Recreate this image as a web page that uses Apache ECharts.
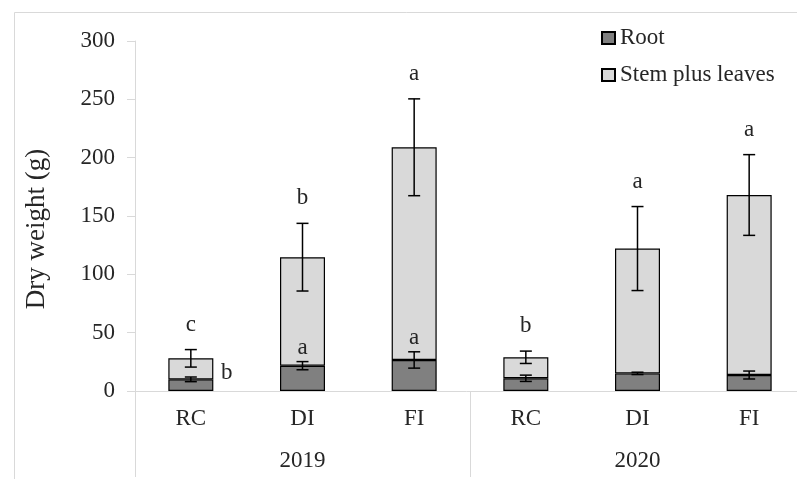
<!DOCTYPE html>
<html>
<head>
<meta charset="utf-8">
<script src="https://cdn.jsdelivr.net/npm/echarts@6/dist/echarts.min.js"></script>
<style>
html,body{margin:0;padding:0;background:#fff;}
#chart{width:797px;height:479px;}
</style>
</head>
<body>
<div id="chart"></div>
<script>
const categories = ['RC', 'DI', 'FI', 'RC', 'DI', 'FI'];
const years = ['2019', '2020'];
const yTicks = [0, 50, 100, 150, 200, 250, 300];
const rootValues = [10, 21.7, 26.6, 10.9, 15.1, 13.7];
const stemValues = [18, 93, 182.3, 18, 107, 154.3];
const rootErr = [2, 3.5, 7, 2.7, 1, 3.4];
const totalErr = [7.5, 29, 41.5, 5.3, 36, 34.6];
const totalLetters = ['c', 'b', 'a', 'b', 'a', 'a'];
const rootLetters = ['b', 'a', 'a', '', '', ''];

const FONT = '"Liberation Serif", "Times New Roman", serif';
const TXT = '#262626';
const AX = '#d9d9d9';
const FS = 23;

const totals = rootValues.map((r, i) => r + stemValues[i]);
const errData = [];
categories.forEach((c, i) => {
  errData.push([i, rootValues[i], rootErr[i]]);
  errData.push([i, totals[i], totalErr[i]]);
});
const letterData = categories.map((c, i) => [i, rootValues[i], rootErr[i], totals[i], totalErr[i]]);

const chart = echarts.init(document.getElementById('chart'));
chart.setOption({
  animation: false,
  backgroundColor: '#fff',
  graphic: [{
    type: 'rect', silent: true,
    shape: { x: 14.5, y: 12.5, width: 900, height: 700 },
    style: { fill: 'none', stroke: AX, lineWidth: 1 }
  }],
  legend: {
    data: ['Root', 'Stem plus leaves'],
    orient: 'vertical',
    left: 601, top: 26, padding: 0,
    itemWidth: 13, itemHeight: 12, itemGap: 13,
    icon: 'rect',
    textStyle: { fontFamily: FONT, fontSize: FS, lineHeight: 24, color: TXT }
  },
  grid: { left: 135, top: 41, width: 670, height: 350, containLabel: false, outerBoundsMode: 'none' },
  xAxis: [{
    type: 'category', data: categories, position: 'bottom',
    axisLine: { show: true, lineStyle: { color: AX, width: 1 } },
    axisTick: { show: false },
    axisLabel: { fontFamily: FONT, fontSize: FS, color: TXT, margin: 16 },
    splitLine: { show: false }
  }, {
    type: 'category', data: years, position: 'bottom',
    axisLine: { show: false },
    axisTick: { show: true, length: 86, lineStyle: { color: AX, width: 1 } },
    axisLabel: { fontFamily: FONT, fontSize: FS, color: TXT, margin: 58 },
    splitLine: { show: false }
  }],
  yAxis: {
    type: 'value', min: yTicks[0], max: yTicks[yTicks.length - 1], interval: 50,
    axisLine: { show: true, lineStyle: { color: AX, width: 1 } },
    axisTick: { show: true, length: 8, lineStyle: { color: AX } },
    axisLabel: { fontFamily: FONT, fontSize: FS, color: TXT, margin: 20 },
    splitLine: { show: false },
    name: 'Dry weight (g)',
    nameLocation: 'middle',
    nameGap: 85,
    nameTextStyle: { fontFamily: FONT, fontSize: 27, color: TXT, padding: [0, 26, 0, 0] }
  },
  series: [{
    name: 'Root', type: 'bar', stack: 'dw', barWidth: 45,
    data: rootValues,
    itemStyle: { color: '#808080', borderColor: '#000', borderWidth: 1.2 }
  }, {
    name: 'Stem plus leaves', type: 'bar', stack: 'dw', barWidth: 45,
    data: stemValues,
    itemStyle: { color: '#d9d9d9', borderColor: '#000', borderWidth: 1.2 }
  }, {
    name: 'err', type: 'custom', data: errData, z: 10,
    renderItem: function (params, api) {
      const x = api.value(0), c = api.value(1), e = api.value(2);
      const t = api.coord([x, c + e]);
      const b = api.coord([x, c - e]);
      const hw = 6;
      const st = { stroke: '#000', lineWidth: 1.5 };
      return {
        type: 'group', children: [
          { type: 'line', shape: { x1: t[0], y1: t[1], x2: b[0], y2: b[1] }, style: st },
          { type: 'line', shape: { x1: t[0] - hw, y1: t[1], x2: t[0] + hw, y2: t[1] }, style: st },
          { type: 'line', shape: { x1: b[0] - hw, y1: b[1], x2: b[0] + hw, y2: b[1] }, style: st }
        ]
      };
    }
  }, {
    name: 'letters', type: 'custom', data: letterData, z: 11,
    renderItem: function (params, api) {
      const i = api.value(0);
      const r = api.value(1), re = api.value(2), tot = api.value(3), te = api.value(4);
      const children = [];
      const tTop = api.coord([i, tot + te]);
      children.push({
        type: 'text', x: tTop[0], y: tTop[1] - 25,
        style: { text: totalLetters[i], fontFamily: FONT, fontSize: FS, fill: TXT, align: 'center', verticalAlign: 'middle' }
      });
      if (rootLetters[i]) {
        const rTop = api.coord([i, r + re]);
        const tBot = api.coord([i, tot - te]);
        const rMid = api.coord([i, r]);
        let px = rTop[0], py = rTop[1] - 14;
        if (py - 10 < tBot[1]) { px = rTop[0] + 36; py = rMid[1] - 6; }
        children.push({
          type: 'text', x: px, y: py,
          style: { text: rootLetters[i], fontFamily: FONT, fontSize: FS, fill: TXT, align: 'center', verticalAlign: 'middle' }
        });
      }
      return { type: 'group', children: children };
    }
  }]
});
</script>
</body>
</html>
